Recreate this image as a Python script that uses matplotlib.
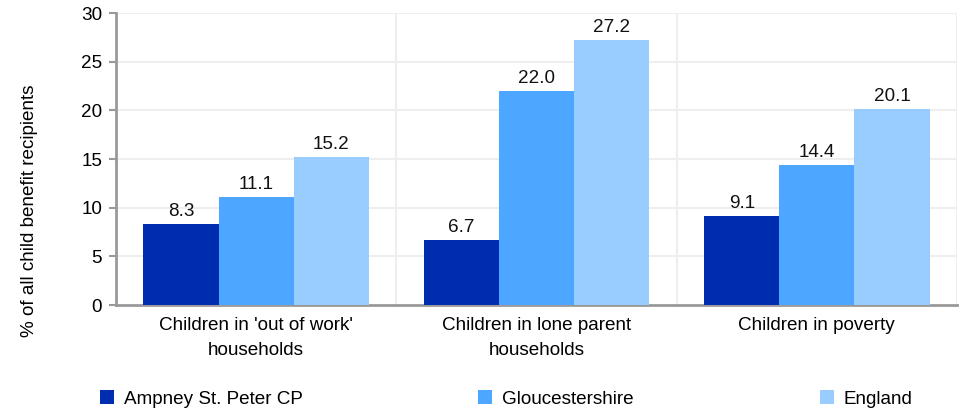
import matplotlib
matplotlib.use("Agg")
import matplotlib.pyplot as plt
import numpy as np

plt.rcParams['font.family'] = ['Liberation Sans', 'DejaVu Sans']

categories = ["Children in 'out of work'\nhouseholds", "Children in lone parent\nhouseholds", "Children in poverty"]
series_names = ["Ampney St. Peter CP", "Gloucestershire", "England"]
ampney = [8.3, 6.7, 9.1]
gloucestershire = [11.1, 22.0, 14.4]
england = [15.2, 27.2, 20.1]
colors = ["#002DB0", "#4DA6FF", "#99CCFF"]
yticks = [0, 5, 10, 15, 20, 25, 30]

FS = 13.6

fig = plt.figure(figsize=(9.59, 4.12), dpi=100)
ax = fig.add_axes([116/959, 107/412, 841/959, 292/412])

x = np.arange(len(categories))
w = 0.268
handles = []
for i, (vals, name, c) in enumerate(zip([ampney, gloucestershire, england], series_names, colors)):
    b = ax.bar(x + (i - 1) * w, vals, width=w, color=c, label=name, zorder=3)
    ax.bar_label(b, labels=[f"{v:.1f}" for v in vals], padding=3, fontsize=FS, color="#111111")
    handles.append(b)

ax.set_xlim(-0.5, 2.5)
ax.set_ylim(0, 30)
ax.set_yticks(yticks)
ax.set_yticklabels([str(t) for t in yticks], fontsize=FS)
ax.set_xticks(x)
ax.set_xticklabels(categories, fontsize=FS, linespacing=1.55)
ax.tick_params(axis='x', length=0, pad=9)
ax.tick_params(axis='y', length=5, width=1.5, color="#999999", pad=5)

for t in yticks[1:]:
    ax.axhline(t, color="#EEEEEE", lw=1.5, zorder=0)
for b in [0.5, 1.5, 2.5]:
    ax.axvline(b, color="#EEEEEE", lw=1.5, zorder=0)

for s in ['top', 'right']:
    ax.spines[s].set_visible(False)
ax.spines['left'].set_color("#999999")
ax.spines['left'].set_linewidth(2)
ax.spines['bottom'].set_color("#999999")
ax.spines['bottom'].set_linewidth(2)

fig.text(30/959, 1 - 211/412, "% of all child benefit recipients", fontsize=FS,
         rotation=90, ha='center', va='center')

legend_x = [100/959, 478/959, 820/959]
for h, name, lx in zip(handles, series_names, legend_x):
    fig.legend([h], [name], loc='center left', bbox_to_anchor=(lx, 13/412),
               frameon=False, fontsize=FS, handlelength=0.75, handleheight=0.75,
               handletextpad=0.5, borderaxespad=0, borderpad=0)

fig.savefig("out.png", dpi=100)
